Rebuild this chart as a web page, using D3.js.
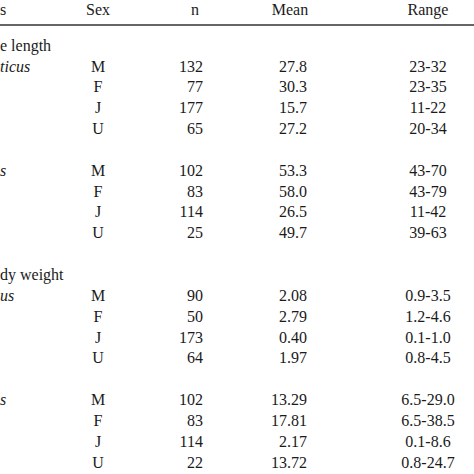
<!DOCTYPE html>
<html><head><meta charset="utf-8">
<script src="https://cdn.jsdelivr.net/npm/d3@7"></script>
<style>body{margin:0;background:#fff}</style></head>
<body><svg id="c" width="474" height="474"></svg>
<script>
// rows of the (cropped) table; row index gives the vertical slot
var headers = ["s", "Sex", "n", "Mean", "Range"];
var labels  = ["e length", "ticus", "", "", "", "", "s", "", "", "", "", "dy weight", "us", "", "", "", "", "s", "", "", ""];
var italic  = [false, true, false, false, false, false, true, false, false, false, false, false, true, false, false, false, false, true, false, false, false];
var sexes   = ["", "M", "F", "J", "U", "", "M", "F", "J", "U", "", "", "M", "F", "J", "U", "", "M", "F", "J", "U"];
var counts  = ["", "132", "77", "177", "65", "", "102", "83", "114", "25", "", "", "90", "50", "173", "64", "", "102", "83", "114", "22"];
var means   = ["", "27.8", "30.3", "15.7", "27.2", "", "53.3", "58.0", "26.5", "49.7", "", "", "2.08", "2.79", "0.40", "1.97", "", "13.29", "17.81", "2.17", "13.72"];
var ranges  = ["", "23-32", "23-35", "11-22", "20-34", "", "43-70", "43-79", "11-42", "39-63", "", "", "0.9-3.5", "1.2-4.6", "0.1-1.0", "0.8-4.5", "", "6.5-29.0", "6.5-38.5", "0.1-8.6", "0.8-24.7"];

var svg = d3.select("#c");
var y = d3.scaleLinear().domain([0, 20]).range([47, 464]);
var font = "'Liberation Serif', 'DejaVu Serif', serif";

var g = svg.append("g").attr("font-family", font).attr("font-size", 16).attr("fill", "#1a1a1a");

// header
var hx = [0, 98, 195, 290, 428], ha = ["start", "middle", "middle", "middle", "middle"];
g.selectAll(".h").data(headers).enter().append("text")
    .attr("x", (d, i) => hx[i]).attr("y", 11).attr("text-anchor", (d, i) => ha[i])
    .attr("dominant-baseline", "middle").text(d => d);
svg.append("line").attr("x1", 0).attr("x2", 474).attr("y1", 25).attr("y2", 25)
    .attr("stroke", "#333").attr("stroke-width", 1.3);

function col(arr, x, anchor, cls){
    g.selectAll("." + cls).data(arr).enter().append("text").attr("class", cls)
        .attr("x", x).attr("y", (d, i) => y(i)).attr("text-anchor", anchor)
        .attr("dominant-baseline", "middle")
        .attr("font-style", (d, i) => cls == "lab" && italic[i] ? "italic" : null)
        .text(d => d);
}
col(labels, 0, "start", "lab");
col(sexes, 98, "middle", "sex");
col(counts, 203, "end", "cnt");
col(means, 307, "end", "mean");
col(ranges, 428, "middle", "rng");
</script></body></html>
